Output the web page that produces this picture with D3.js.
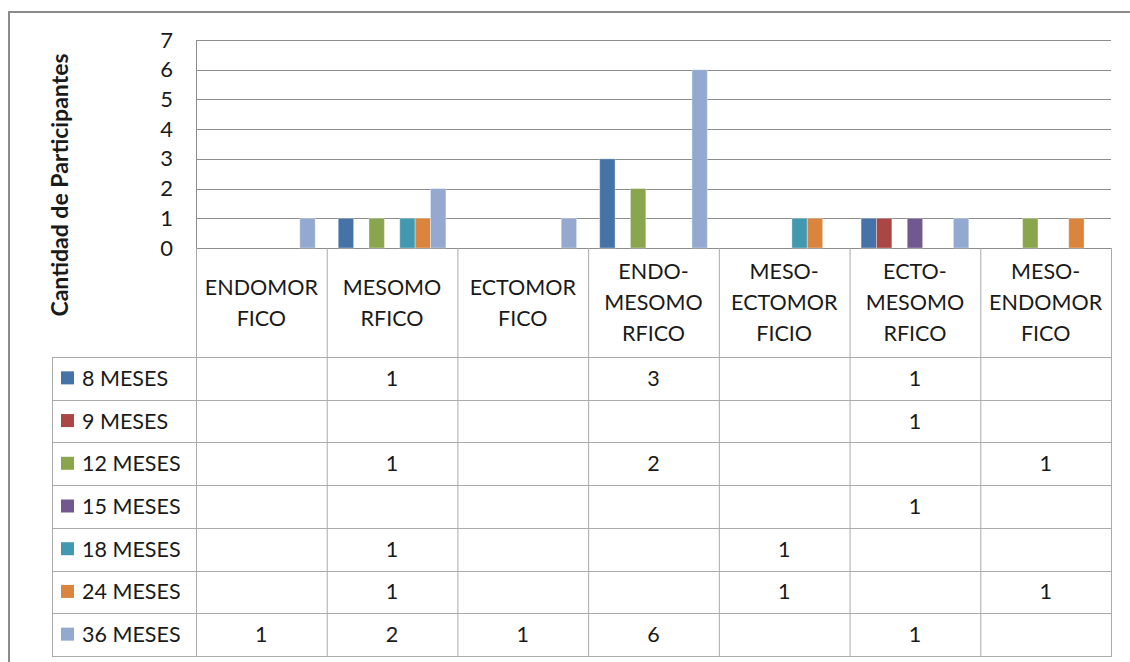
<!DOCTYPE html>
<html>
<head>
<meta charset="utf-8">
<script src="https://cdn.jsdelivr.net/npm/d3@7"></script>
<style>
  body { margin: 0; background: #fff; }
  svg text { font-family: Lato, "Liberation Sans", sans-serif; fill: #1a1a1a; }
</style>
</head>
<body>
<svg id="chart" width="1130" height="662"></svg>
<script>
// categories (header text split in lines like the original table)
var categories = ["ENDOMORFICO", "MESOMORFICO", "ECTOMORFICO", "ENDO-MESOMORFICO",
  "MESO-ECTOMORFICIO", "ECTO-MESOMORFICO", "MESO-ENDOMORFICO"];
var headerLines = [
  ["ENDOMOR", "FICO"],
  ["MESOMO", "RFICO"],
  ["ECTOMOR", "FICO"],
  ["ENDO-", "MESOMO", "RFICO"],
  ["MESO-", "ECTOMOR", "FICIO"],
  ["ECTO-", "MESOMO", "RFICO"],
  ["MESO-", "ENDOMOR", "FICO"]
];
var seriesNames = ["8 MESES", "9 MESES", "12 MESES", "15 MESES", "18 MESES", "24 MESES", "36 MESES"];
var seriesColors = ["#4572A7", "#AA4643", "#89A54E", "#71588F", "#4198AF", "#DB843D", "#93A9CF"];

// values per series (null = empty cell)
var meses8  = [null, 1, null, 3, null, 1, null];
var meses9  = [null, null, null, null, null, 1, null];
var meses12 = [null, 1, null, 2, null, null, 1];
var meses15 = [null, null, null, null, null, 1, null];
var meses18 = [null, 1, null, null, 1, null, null];
var meses24 = [null, 1, null, null, 1, null, 1];
var meses36 = [1, 2, 1, 6, null, 1, null];
var yTicks = [0, 1, 2, 3, 4, 5, 6, 7];

var seriesValues = [meses8, meses9, meses12, meses15, meses18, meses24, meses36];

var svg = d3.select("#chart");

var plotLeft = 196, plotRight = 1111, plotTop = 40, plotBottom = 248;
var tableLeft = 52, headerBottom = 357, tableBottom = 656;
var FONT = "Lato, 'Liberation Sans', sans-serif";

// outer frame (only top and left edges are visible)
svg.append("path")
  .attr("d", "M9,662 L9,12 L1130,12")
  .attr("fill", "none")
  .attr("stroke", "#8c8c8c")
  .attr("stroke-width", 2);

// scales
var x0 = d3.scaleBand().domain(categories).range([plotLeft, plotRight]);
var x1 = d3.scaleBand().domain(seriesNames).range([0, x0.bandwidth()])
  .paddingInner(0).paddingOuter(0.75);
var y = d3.scaleLinear().domain([0, 7]).range([plotBottom, plotTop]);
var rowY = d3.scaleBand().domain(seriesNames).range([headerBottom, tableBottom]);

// gridlines
svg.append("g")
  .selectAll("line")
  .data(yTicks)
  .enter()
  .append("line")
  .attr("x1", plotLeft)
  .attr("x2", plotRight)
  .attr("y1", function (d) { return Math.round(y(d)) + 0.5; })
  .attr("y2", function (d) { return Math.round(y(d)) + 0.5; })
  .attr("stroke", "#8c8c8c")
  .attr("stroke-width", 1);

svg.append("line")
  .attr("x1", plotLeft + 0.5).attr("x2", plotLeft + 0.5)
  .attr("y1", plotTop).attr("y2", plotBottom)
  .attr("stroke", "#8c8c8c");

// y axis labels
var yAxis = d3.axisLeft(y).tickValues(yTicks).tickFormat(d3.format("d"))
  .tickSize(0).tickPadding(0);
var yAxisG = svg.append("g")
  .attr("transform", "translate(173,0)")
  .call(yAxis);
yAxisG.select(".domain").remove();
yAxisG.selectAll("text")
  .style("font-family", FONT)
  .style("font-size", "22px")
  .attr("fill", "#1a1a1a");

// y title
svg.append("text")
  .attr("transform", "translate(68,185) rotate(-90)")
  .attr("text-anchor", "middle")
  .style("font-size", "23px")
  .style("font-weight", "bold")
  .text("Cantidad de Participantes");

// bars
var barData = [];
seriesNames.forEach(function (s, i) {
  seriesValues[i].forEach(function (v, j) {
    if (v !== null) barData.push({ series: s, color: seriesColors[i], cat: categories[j], value: v });
  });
});

svg.append("g")
  .selectAll("rect")
  .data(barData)
  .enter()
  .append("rect")
  .attr("x", function (d) { return x0(d.cat) + x1(d.series); })
  .attr("y", function (d) { return y(d.value); })
  .attr("width", x1.bandwidth())
  .attr("height", function (d) { return y(0) - y(d.value); })
  .attr("fill", function (d) { return d.color; })
  .attr("stroke", "#ffffff")
  .attr("stroke-opacity", 0.35)
  .attr("stroke-width", 1);

// data table
var table = svg.append("g").attr("class", "dataTable");
var tableStroke = "#ababab";

// header columns
categories.forEach(function (c, j) {
  table.append("line")
    .attr("x1", x0(c) + 0.5).attr("x2", x0(c) + 0.5)
    .attr("y1", plotBottom).attr("y2", tableBottom)
    .attr("stroke", tableStroke);
});
table.append("line")
  .attr("x1", plotRight + 0.5).attr("x2", plotRight + 0.5)
  .attr("y1", plotBottom).attr("y2", tableBottom)
  .attr("stroke", tableStroke);
table.append("line")
  .attr("x1", tableLeft + 0.5).attr("x2", tableLeft + 0.5)
  .attr("y1", headerBottom).attr("y2", tableBottom)
  .attr("stroke", tableStroke);

// row lines
seriesNames.forEach(function (s) {
  table.append("line")
    .attr("x1", tableLeft).attr("x2", plotRight + 1)
    .attr("y1", Math.round(rowY(s)) + 0.5).attr("y2", Math.round(rowY(s)) + 0.5)
    .attr("stroke", tableStroke);
});
table.append("line")
  .attr("x1", tableLeft).attr("x2", plotRight + 1)
  .attr("y1", tableBottom + 0.5).attr("y2", tableBottom + 0.5)
  .attr("stroke", tableStroke);

// header text
var lineH = 31;
categories.forEach(function (c, j) {
  var lines = headerLines[j];
  var cx = x0(c) + x0.bandwidth() / 2;
  var mid = (plotBottom + headerBottom) / 2;
  var startY = mid - (lines.length - 1) * lineH / 2;
  var t = table.append("text")
    .attr("text-anchor", "middle")
    .style("font-size", "21.5px");
  lines.forEach(function (l, k) {
    t.append("tspan")
      .attr("x", cx)
      .attr("y", startY + k * lineH)
      .attr("dy", "0.35em")
      .text(l);
  });
});

// legend cells
seriesNames.forEach(function (s, i) {
  var cy = rowY(s) + rowY.bandwidth() / 2;
  table.append("rect")
    .attr("x", 61).attr("y", cy - 7)
    .attr("width", 13).attr("height", 13)
    .attr("fill", seriesColors[i]);
  table.append("text")
    .attr("x", 82).attr("y", cy)
    .attr("dy", "0.35em")
    .style("font-size", "21.5px")
    .text(s);
});

// value cells
table.append("g")
  .selectAll("text")
  .data(barData)
  .enter()
  .append("text")
  .attr("x", function (d) { return x0(d.cat) + x0.bandwidth() / 2; })
  .attr("y", function (d) { return rowY(d.series) + rowY.bandwidth() / 2; })
  .attr("dy", "0.35em")
  .attr("text-anchor", "middle")
  .style("font-size", "21.5px")
  .text(function (d) { return d.value; });
</script>
</body>
</html>
